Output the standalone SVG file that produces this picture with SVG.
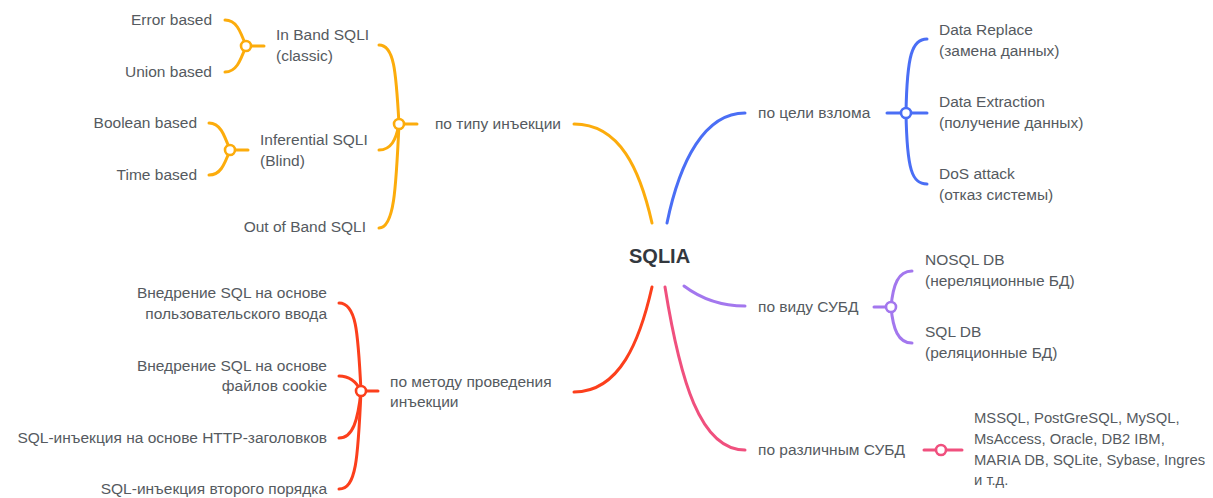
<svg xmlns="http://www.w3.org/2000/svg" width="1213" height="498" viewBox="0 0 1213 498">
<style>
text{font-family:"Liberation Sans",Arial,sans-serif;font-size:15.5px;fill:#555a60}
.e{text-anchor:end}
.s{font-size:14.8px}
.root{font-size:20px;font-weight:bold;fill:#33383e}
path{fill:none;stroke-width:3;stroke-linecap:round}
circle{fill:#fff;stroke-width:2.6}
.o{stroke:#fcac0c}.b{stroke:#4a6ef5}.p{stroke:#a377ee}.k{stroke:#f0507e}.r{stroke:#fc3f1c}
</style>
<rect width="1213" height="498" fill="#fff"/>
<g id="connectors">
<path class="o" d="M652,223 C640,170 620,124 574,124"/>
<path class="b" d="M667,223 C680,160 705,113 745,113"/>
<path class="p" d="M684,286 C700,298 720,306 745,306"/>
<path class="k" d="M665,287 C680,380 700,450 745,450"/>
<path class="r" d="M652,287 C640,340 620,392 574,392"/>
<path class="o" d="M399,124 L417,124"/>
<path class="o" d="M399,124 C396,70 394,45 379,45"/>
<path class="o" d="M399,124 C396,140 391,150 379,150"/>
<path class="o" d="M399,124 C396,190 394,228 379,228"/>
<path class="o" d="M246,46 L264,46"/>
<path class="o" d="M246,46 C240,30 236,20 225,20"/>
<path class="o" d="M246,46 C240,62 236,72 225,72"/>
<path class="o" d="M230,150 L248,150"/>
<path class="o" d="M230,150 C224,134 220,123 209,123"/>
<path class="o" d="M230,150 C224,166 220,175 209,175"/>
<path class="r" d="M361,391 L378,391"/>
<path class="r" d="M361,391 C358,330 356,303 339,303"/>
<path class="r" d="M361,391 C356,381 349,376 339,376"/>
<path class="r" d="M361,391 C358,420 353,438 339,438"/>
<path class="r" d="M361,391 C358,460 356,489 339,489"/>
<path class="b" d="M887,113 L927,113"/>
<path class="b" d="M906,113 C907,55 912,39 927,39"/>
<path class="b" d="M906,113 C907,170 912,184 927,184"/>
<path class="p" d="M874,307 L891,307"/>
<path class="p" d="M891,307 C893,285 898,271 912,271"/>
<path class="p" d="M891,307 C893,329 898,343 912,343"/>
<path class="k" d="M924,450 L962,450"/>
</g>
<g id="root"><text class="root" x="629" y="263">SQLIA</text></g>
<g id="type"><text class="e" x="561" y="129">по типу инъекции</text><circle class="o" cx="399" cy="124" r="5"/></g>
<g id="inband"><text x="276" y="40">In Band SQLI</text><text x="276" y="61">(classic)</text><circle class="o" cx="246" cy="46" r="5"/></g>
<g id="error"><text class="e" x="212" y="25">Error based</text></g>
<g id="union"><text class="e" x="212" y="77">Union based</text></g>
<g id="inferential"><text x="260" y="145">Inferential SQLI</text><text x="260" y="166">(Blind)</text><circle class="o" cx="230" cy="150" r="5"/></g>
<g id="boolean"><text class="e" x="197" y="128">Boolean based</text></g>
<g id="time"><text class="e" x="197" y="180">Time based</text></g>
<g id="outofband"><text class="e" x="366" y="232">Out of Band SQLI</text></g>
<g id="method"><text x="390" y="387">по методу проведения</text><text x="390" y="407">инъекции</text><circle class="r" cx="361" cy="391" r="5"/></g>
<g id="m1"><text class="e" x="327" y="298">Внедрение SQL на основе</text><text class="e" x="327" y="319">пользовательского ввода</text></g>
<g id="m2"><text class="e" x="327" y="371">Внедрение SQL на основе</text><text class="e" x="327" y="391">файлов cookie</text></g>
<g id="m3"><text class="e" x="327" y="443">SQL-инъекция на основе HTTP-заголовков</text></g>
<g id="m4"><text class="e" x="327" y="494">SQL-инъекция второго порядка</text></g>
<g id="goal"><text x="758" y="118">по цели взлома</text><circle class="b" cx="906" cy="113" r="5"/></g>
<g id="g1"><text x="939" y="35">Data Replace</text><text x="939" y="56">(замена данных)</text></g>
<g id="g2"><text x="939" y="107">Data Extraction</text><text x="939" y="128">(получение данных)</text></g>
<g id="g3"><text x="939" y="179">DoS attack</text><text x="939" y="200">(отказ системы)</text></g>
<g id="dbtype"><text x="758" y="312">по виду СУБД</text><circle class="p" cx="891" cy="307" r="5"/></g>
<g id="d1"><text x="925" y="265">NOSQL DB</text><text x="925" y="286">(нереляционные БД)</text></g>
<g id="d2"><text x="925" y="337">SQL DB</text><text x="925" y="358">(реляционные БД)</text></g>
<g id="dbms"><text x="758" y="455">по различным СУБД</text><circle class="k" cx="941" cy="450" r="5"/></g>
<g id="dbmslist"><text class="s" x="974" y="423">MSSQL, PostGreSQL, MySQL,</text><text class="s" x="974" y="444">MsAccess, Oracle, DB2 IBM,</text><text class="s" x="974" y="465">MARIA DB, SQLite, Sybase, Ingres</text><text class="s" x="974" y="485">и т.д.</text></g>
</svg>
